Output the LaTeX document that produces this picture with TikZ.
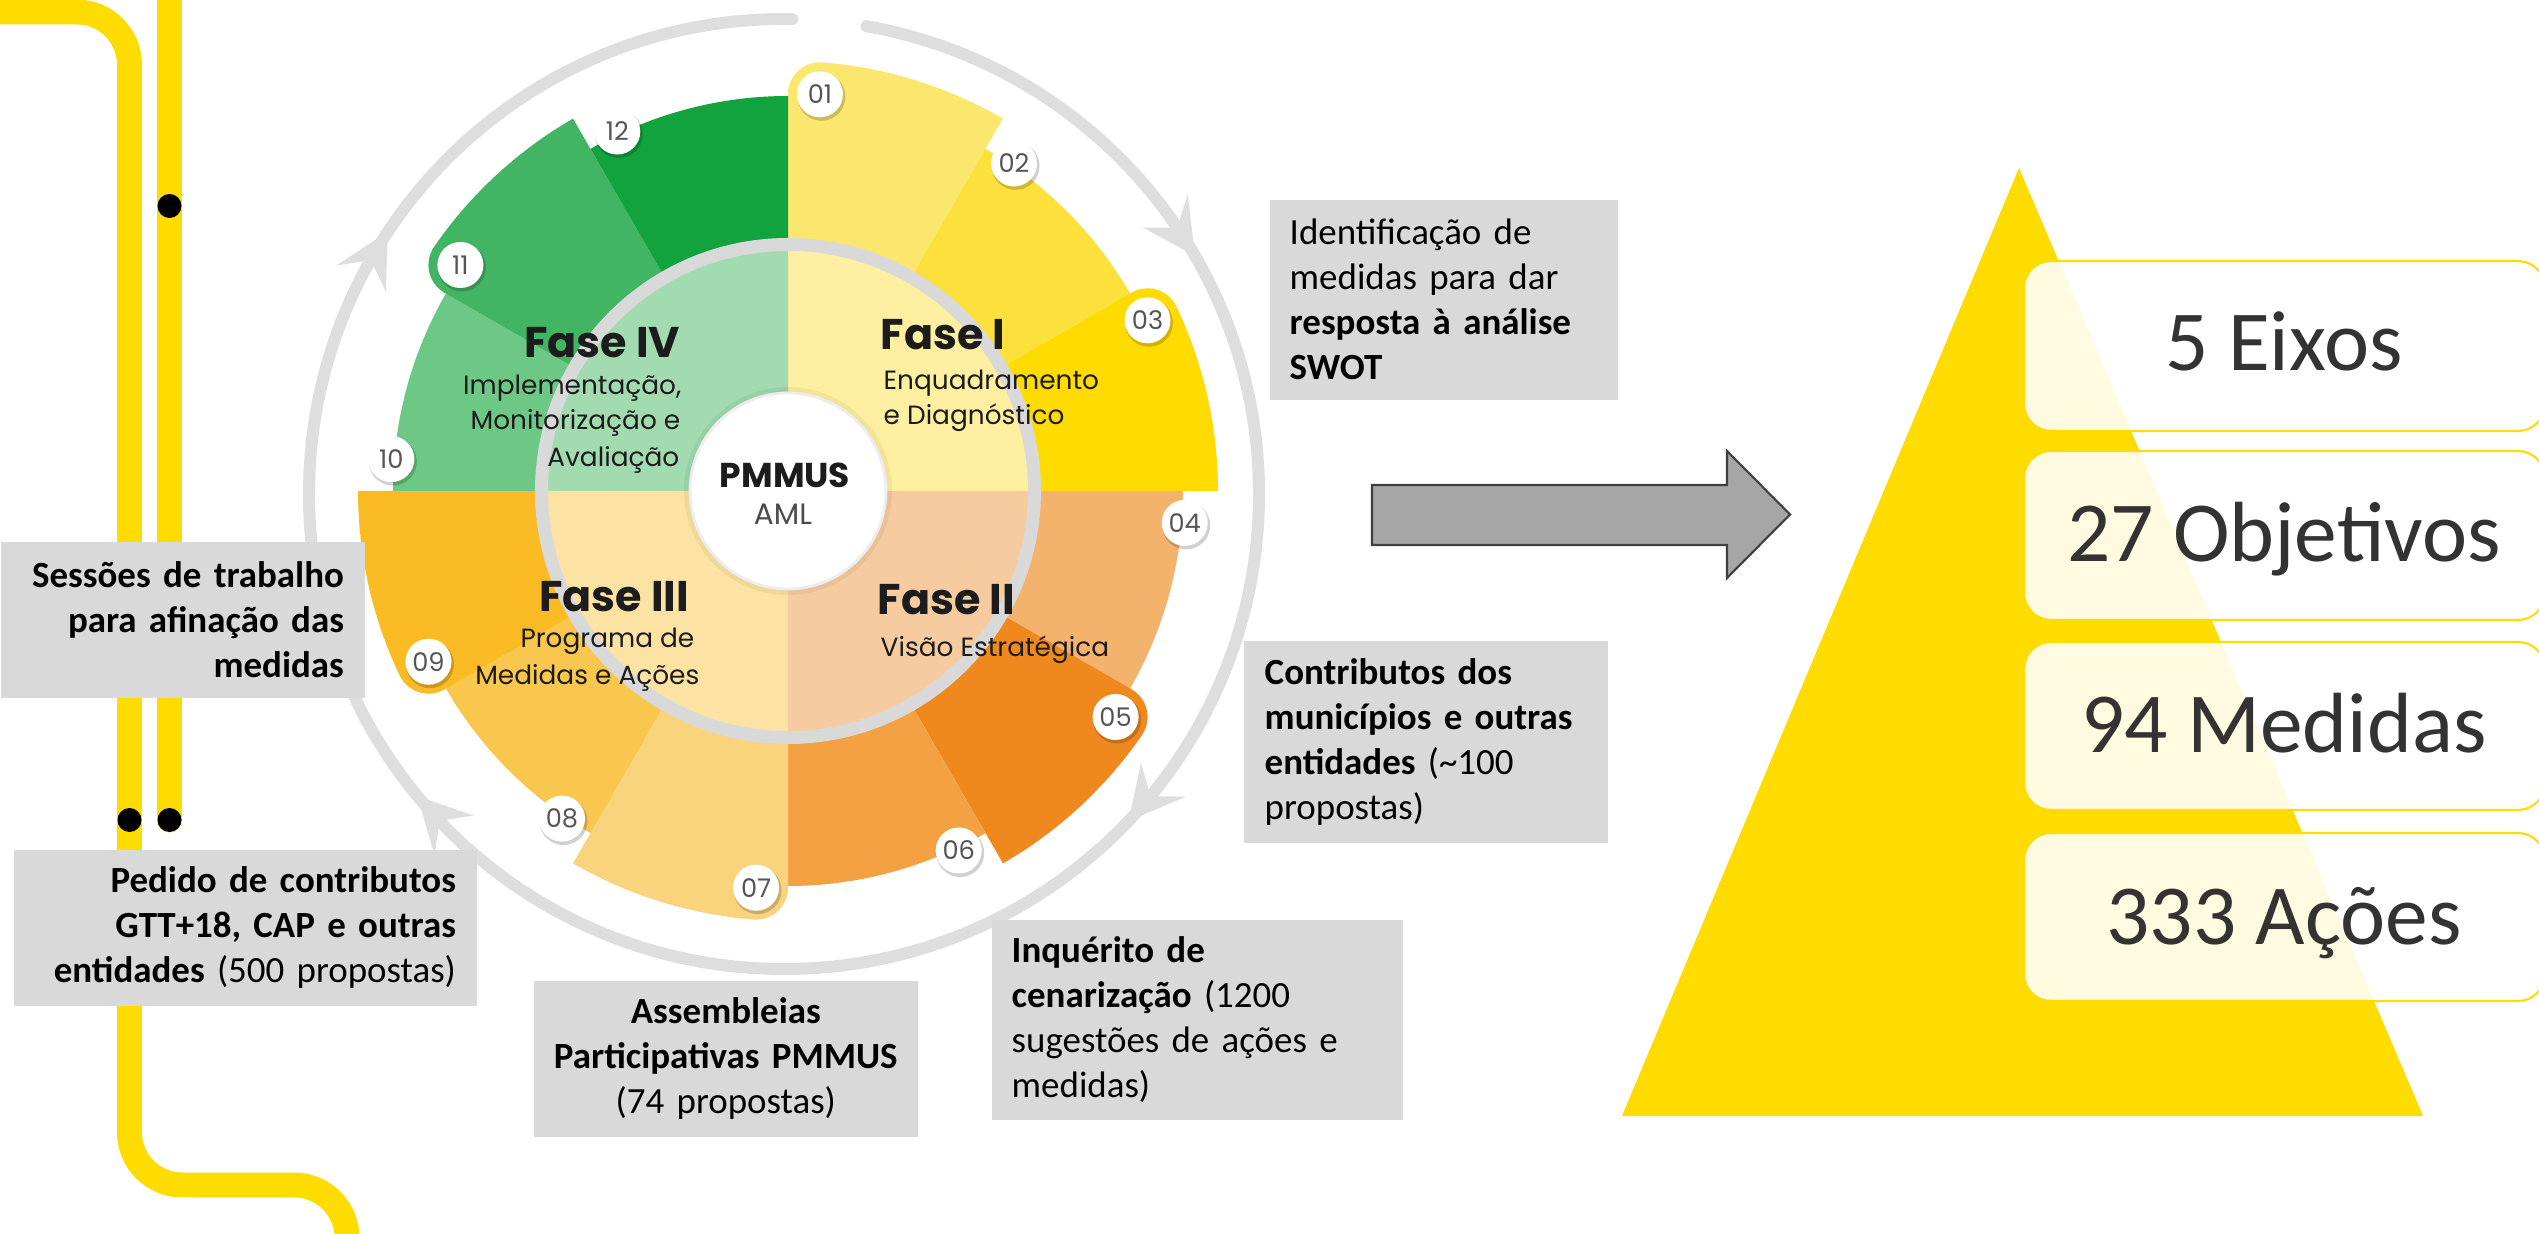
\documentclass[tikz,border=0pt]{standalone}
\usepackage{fontspec}
\setmainfont{Carlito}
\newfontfamily\calibri{Carlito}
\newfontfamily\geo{Poppins}
\usetikzlibrary{calc}

\definecolor{yel}{HTML}{FFDC00}
\definecolor{boxgray}{HTML}{D9D9D9}
\definecolor{arrowgray}{HTML}{A6A6A6}
\definecolor{arrowborder}{HTML}{404040}
\definecolor{ringgray}{HTML}{D9D9D9}
\definecolor{outring}{HTML}{DEDEDE}
\definecolor{s01}{HTML}{FBE76E}
\definecolor{s02}{HTML}{FCE03C}
\definecolor{s03}{HTML}{FFDB00}
\definecolor{s04}{HTML}{F4B36D}
\definecolor{s05}{HTML}{EF891E}
\definecolor{s06}{HTML}{F3A143}
\definecolor{s07}{HTML}{F9D47C}
\definecolor{s08}{HTML}{F9C74E}
\definecolor{s09}{HTML}{FBBB24}
\definecolor{s10}{HTML}{6DC886}
\definecolor{s11}{HTML}{41B563}
\definecolor{s12}{HTML}{12A23E}
\definecolor{inI}{HTML}{FEF0A0}
\definecolor{inII}{HTML}{F7CBA0}
\definecolor{inIII}{HTML}{FDE3A3}
\definecolor{inIV}{HTML}{A2DBB0}
\definecolor{numgray}{HTML}{555555}
\definecolor{txtdark}{HTML}{1C1C1C}
\definecolor{pyrtext}{HTML}{333333}

\tikzset{
  tbox/.style={fill=boxgray, inner xsep=0.2cm, inner ysep=0pt, text=black,
    font=\calibri\fontsize{10.5}{12.8}\selectfont},
  fasebig/.style={font=\geo\bfseries\fontsize{12.2}{14}\selectfont, text=txtdark, inner sep=0pt},
  fasesub/.style={font=\geo\fontsize{7.5}{9}\selectfont, text=txtdark, inner sep=0pt},
  numtext/.style={font=\geo\fontsize{7.3}{8}\selectfont, text=numgray, inner sep=0pt},
  pyrlabel/.style={font=\calibri\fontsize{24.3}{29}\selectfont, text=pyrtext, inner sep=0pt},
  pyrbox/.style={draw=yel, line width=0.6pt, fill=white, fill opacity=0.88, rounded corners=7.7pt},
  yline/.style={draw=yel, line width=7.1pt},
}

\begin{document}
\begin{tikzpicture}[x=0.01cm, y=-0.01cm]
\useasboundingbox (0,0) rectangle (2539,1234);
\fill[white] (0,0) rectangle (2539,1234);

% ---------- left decorative lines ----------
\draw[yline, rounded corners=15pt] (-30,12) -- (129.5,12) -- (129.5,1185) -- (347,1185) -- (347,1280);
\draw[yline, line cap=round] (169.5,-30) -- (169.5,820);
\fill[black] (169.5,206) circle[radius=12];
\fill[black] (129.5,820) circle[radius=12];
\fill[black] (169.5,820) circle[radius=12];

% ---------- circle diagram ----------
\begin{scope}[shift={(788,491)}, yscale=-1]
  \fill[inI]   (0,0) -- (0:250)   arc[start angle=0,   end angle=90,  radius=250] -- cycle;
  \fill[inIV]  (0,0) -- (90:250)  arc[start angle=90,  end angle=180, radius=250] -- cycle;
  \fill[inIII] (0,0) -- (180:250) arc[start angle=180, end angle=270, radius=250] -- cycle;
  \fill[inII]  (0,0) -- (270:250) arc[start angle=270, end angle=360, radius=250] -- cycle;
  \foreach \k/\col in {1/s01,2/s02,3/s03,4/s04,5/s05,6/s06,7/s07,8/s08,9/s09,10/s10,11/s11,12/s12}{
    \pgfmathsetmacro{\ts}{90-30*(\k-1)}
    \pgfmathsetmacro{\te}{\ts-30}
    \pgfmathsetmacro{\tb}{\ts-4.6}
    \pgfmathsetmacro{\tq}{\ts+90}
    \ifodd\k\relax
      \fill[\col] (\te:245) -- (\te:430) arc[start angle=\te, end angle=\tb, radius=430]
        arc[start angle=\tb, end angle=\tq, radius=32] -- (\ts:245)
        arc[start angle=\ts, end angle=\te, radius=245] -- cycle;
    \else
      \fill[\col] (\te:245) -- (\te:395) arc[start angle=\te, end angle=\ts, radius=395]
        -- (\ts:245) arc[start angle=\ts, end angle=\te, radius=245] -- cycle;
    \fi
  }
  \draw[ringgray, line width=3.7pt] (0,0) circle[radius=246.5];
  \fill[black, opacity=0.05] (0,0) circle[radius=104];
  \filldraw[fill=white, draw=black!7, line width=0.8pt] (0,0) circle[radius=98];
  \foreach \k/\lab in {1/01,2/02,3/03,4/04,5/05,6/06,7/07,8/08,9/09,10/10,11/11,12/12}{
    \pgfmathsetmacro{\tb}{90-30*(\k-1)-4.6}
    \fill[black, opacity=0.18] ($(\tb:398)+(1.5,-2.5)$) circle[radius=24];
    \fill[white] (\tb:398) circle[radius=23];
    \node[numtext] (badge\k) at (\tb:398) {\lab};
  }
\end{scope}

% outer gray cycle arrows
\begin{scope}[shift={(784,494)}, yscale=-1]
  \draw[outring, line width=3.4pt, line cap=round] (-271:475) arc[start angle=-271, end angle=80, radius=475];
  \foreach \a in {36.6,-37,-134,153}{
    \fill[outring] ({\a-6.5}:475) -- (\a:503) -- ({\a-2.5}:475) -- (\a:447) -- cycle;
  }
\end{scope}

% phase labels
\node[fasebig, anchor=base east] (f4) at (681,358) {Fase IV};
\node[fasesub, anchor=base east] (f4a) at (682,395) {Implementação,};
\node[fasesub, anchor=base east] (f4b) at (681,430) {Monitorização e};
\node[fasesub, anchor=base east] (f4c) at (680,467) {Avaliação};
\node[fasebig, anchor=base west] (f1) at (880,350) {Fase I};
\node[fasesub, anchor=base west] (f1a) at (883,390) {Enquadramento};
\node[fasesub, anchor=base west] (f1b) at (883,425) {e Diagnóstico};
\node[fasebig, anchor=base east] (f3) at (690,612) {Fase III};
\node[fasesub, anchor=base east] (f3a) at (695,648) {Programa de};
\node[fasesub, anchor=base east] (f3b) at (700,685) {Medidas e Ações};
\node[fasebig, anchor=base west] (f2) at (877,615) {Fase II};
\node[fasesub, anchor=base west] (f2a) at (880,657) {Visão Estratégica};
\node[font=\geo\bfseries\fontsize{9.8}{11}\selectfont, text=txtdark, inner sep=0pt, anchor=base] (pm) at (785,488) {PMMUS};
\node[font=\geo\fontsize{8.4}{9}\selectfont, text=black!70, inner sep=0pt, anchor=base] (aml) at (783,525) {AML};

% ---------- gray text boxes ----------
\node[tbox, anchor=north west, text width=3.08cm, minimum height=2cm, align=left] (swot) at (1269,199)
  {Identificação de\\medidas para dar\\\textbf{resposta à análise}\\\textbf{SWOT}};
\node[tbox, anchor=north west, inner xsep=0.21cm, text width=3.22cm, minimum height=2.02cm, align=left] (contrib) at (1243,640)
  {\textbf{Contributos dos}\\\textbf{municípios e outras}\\\textbf{entidades} (\textasciitilde100\\propostas)};
\node[tbox, anchor=north west, text width=3.71cm, minimum height=2cm, align=left] (inq) at (991,919)
  {\textbf{Inquérito de}\\\textbf{cenarização} (1200\\sugestões de ações e\\medidas)};
\node[tbox, anchor=north west, text width=3.44cm, minimum height=1.56cm, align=center] (assemb) at (533,980)
  {\textbf{Assembleias}\\\textbf{Participativas PMMUS}\\(74 propostas)};
\node[tbox, anchor=north west, inner xsep=0.21cm, text width=4.21cm, minimum height=1.56cm, align=right] (pedido) at (13,849)
  {\textbf{Pedido de contributos}\\\textbf{GTT+18, CAP e outras}\\\textbf{entidades} (500 propostas)};
\node[tbox, anchor=north west, inner xsep=0.21cm, text width=3.22cm, minimum height=1.56cm, align=right] (sessoes) at (0,541)
  {\textbf{Sessões de trabalho}\\\textbf{para afinação das}\\\textbf{medidas}};

% ---------- block arrow ----------
\draw[draw=arrowborder, fill=arrowgray, line width=0.6pt]
  (1372,485) -- (1727,485) -- (1727,451) -- (1790,514.5) -- (1727,578) -- (1727,545) -- (1372,545) -- cycle;

% ---------- pyramid ----------
\fill[yel] (2019,168) -- (1622,1116) -- (2423,1116) -- cycle;
\draw[pyrbox] (2024,261) rectangle (2545,431);
\draw[pyrbox] (2024,451) rectangle (2545,620);
\draw[pyrbox] (2024,642) rectangle (2545,810);
\draw[pyrbox] (2024,833) rectangle (2545,1001);
\node[pyrlabel, anchor=base] (eixos) at (2284,371) {5 Eixos};
\node[pyrlabel, anchor=base] (objet) at (2284,562) {27 Objetivos};
\node[pyrlabel, anchor=base] (medid) at (2284,753) {94 Medidas};
\node[pyrlabel, anchor=base] (acoes) at (2284,944) {333 Ações};
\end{tikzpicture}
\end{document}
